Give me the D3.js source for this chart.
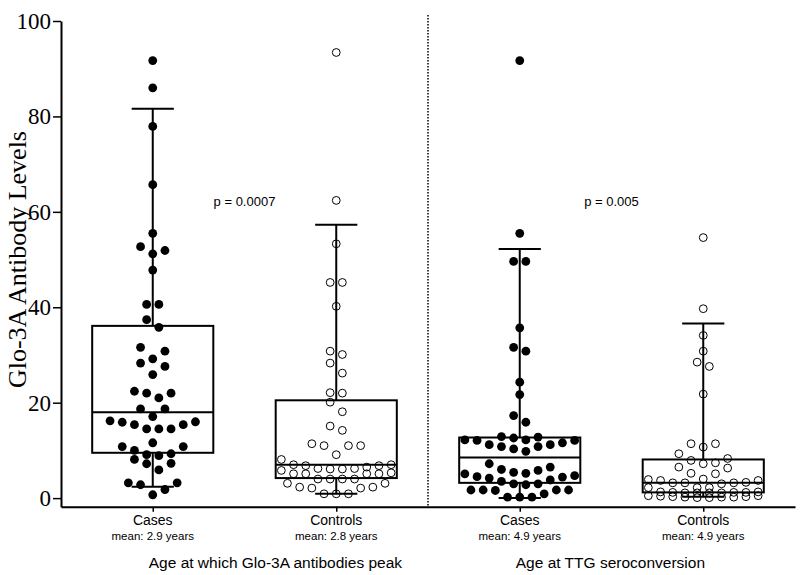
<!DOCTYPE html>
<html><head><meta charset="utf-8">
<script src="https://cdn.jsdelivr.net/npm/d3@7"></script>
<style>body{margin:0;background:#fff} svg{display:block}</style>
</head><body><svg id="chart" width="800" height="575"></svg>
<script>
// ---------- data ----------
const groupLabels = ["Cases", "Controls", "Cases", "Controls"];
const meanLabels = ["mean: 2.9 years", "mean: 2.8 years", "mean: 4.9 years", "mean: 4.9 years"];
const sectionLabels = ["Age at which Glo-3A antibodies peak", "Age at TTG seroconversion"];
const pLabels = ["p = 0.0007", "p = 0.005"];
const yTicks = [0, 20, 40, 60, 80, 100];
const yTitle = "Glo-3A Antibody Levels";

const peakCases = [91.7, 86.0, 77.9, 65.7, 55.5, 52.7, 51.9, 51.2, 47.8, 40.6, 40.6, 37.4, 35.8, 31.6, 30.8, 29.2, 28.3, 27.6, 25.9, 22.4, 22.0, 22.0, 21.0, 18.7, 18.7, 17.1, 16.2, 16.0, 15.9, 15.4, 15.4, 14.5, 14.5, 14.5, 11.6, 10.8, 10.8, 10.0, 9.3, 9.1, 8.9, 8.1, 7.3, 7.2, 5.9, 3.2, 3.2, 2.8, 1.8, 0.7];
const peakControls = [93.4, 62.4, 53.3, 45.2, 45.2, 40.2, 30.8, 30.1, 28.3, 26.2, 22.1, 22.0, 20.1, 18.1, 15.1, 14.2, 11.4, 11.0, 11.0, 11.0, 9.1, 8.1, 7.0, 7.0, 6.8, 6.8, 6.5, 6.2, 6.2, 6.1, 6.1, 5.8, 5.3, 5.1, 5.1, 5.1, 5.1, 4.0, 4.0, 4.0, 4.0, 3.1, 3.1, 2.3, 2.3, 2.1, 2.1, 0.9, 0.9, 0.9];
const ttgCases = [91.7, 55.5, 49.6, 49.6, 35.7, 31.6, 30.8, 24.3, 21.7, 17.3, 15.9, 12.9, 12.8, 12.6, 12.2, 12.2, 12.1, 12.1, 11.6, 11.2, 11.2, 10.8, 10.8, 10.3, 9.8, 7.2, 6.5, 6.0, 5.8, 5.4, 5.2, 5.1, 4.7, 4.5, 4.4, 4.2, 3.8, 3.5, 3.0, 3.0, 2.8, 1.7, 1.7, 1.7, 1.7, 1.6, 0.9, 0.2, 0.2, 0.2];
const ttgControls = [54.6, 39.7, 34.1, 30.8, 28.5, 27.6, 21.8, 11.4, 11.4, 10.7, 9.3, 8.3, 7.9, 7.4, 7.2, 6.5, 6.3, 5.2, 5.1, 4.0, 3.9, 3.7, 3.7, 3.3, 3.2, 3.2, 3.2, 3.0, 2.2, 2.2, 2.2, 1.3, 1.3, 1.2, 1.2, 1.2, 1.1, 1.1, 1.1, 1.1, 0.5, 0.5, 0.4, 0.3, 0.3, 0.2, 0.2, 0.2, 0.1, 0.1];

const whiskerLow  = [2.4, 0.9, 0.0, 0.3];
const q1          = [9.5, 4.2, 3.2, 1.2];
const median      = [18.0, 7.0, 8.5, 3.2];
const q3          = [36.1, 20.5, 12.7, 8.1];
const whiskerHigh = [81.6, 57.3, 52.2, 36.6];

const groupValues = [peakCases, peakControls, ttgCases, ttgControls];
const filled = [true, false, true, false];

// ---------- layout ----------
const svg = d3.select("#chart");
const x = d3.scalePoint().domain(d3.range(groupLabels.length)).range([61, 795]).padding(0.5);
const y = d3.scaleLinear().domain([-1.8, 100]).range([506.7, 21]);
const step = x.step();
const boxW = step * 0.66, capW = step * 0.23;
const slotPx = 12.2, rowPx = 12.2, maxRow = 10;

function swarm(vals) {
  const sorted = vals.slice().sort((a, b) => a - b);
  const rows = []; let cur = null;
  for (const v of sorted) {
    if (!cur || cur.items.length >= maxRow || Math.abs(y(v) - y(cur.start)) > rowPx + 1e-6) {
      cur = {start: v, items: []}; rows.push(cur);
    }
    cur.items.push(v);
  }
  const out = [];
  rows.forEach(r => {
    const n = r.items.length;
    r.items.forEach((v, k) => {
      let s;
      if (n % 2) s = k === 0 ? 0 : (k % 2 ? (k + 1) / 2 : -k / 2);
      else s = k % 2 === 0 ? (k / 2 + 0.5) : -((k - 1) / 2 + 0.5);
      out.push({v, s});
    });
  });
  return out;
}

// separator
const sepX = (x(1) + x(2)) / 2;
svg.append("line").attr("x1", sepX).attr("x2", sepX)
  .attr("y1", y(100) - 6).attr("y2", y.range()[0])
  .attr("stroke", "#000").attr("stroke-width", 1.5).attr("stroke-dasharray", "1.5,1.5");

// boxes & whiskers
const g = svg.append("g");
groupValues.forEach((vals, i) => {
  const cx = x(i);
  const gg = g.append("g").attr("stroke", "#000").attr("stroke-width", 2).attr("fill", "none");
  gg.append("line").attr("x1", cx).attr("x2", cx).attr("y1", y(whiskerHigh[i])).attr("y2", y(q3[i]));
  gg.append("line").attr("x1", cx).attr("x2", cx).attr("y1", y(q1[i])).attr("y2", y(whiskerLow[i]));
  gg.append("line").attr("x1", cx - capW / 2).attr("x2", cx + capW / 2).attr("y1", y(whiskerHigh[i])).attr("y2", y(whiskerHigh[i]));
  gg.append("line").attr("x1", cx - capW / 2).attr("x2", cx + capW / 2).attr("y1", y(whiskerLow[i])).attr("y2", y(whiskerLow[i]));
  gg.append("rect").attr("x", cx - boxW / 2).attr("width", boxW)
    .attr("y", y(q3[i])).attr("height", y(q1[i]) - y(q3[i]));
  gg.append("line").attr("x1", cx - boxW / 2).attr("x2", cx + boxW / 2).attr("y1", y(median[i])).attr("y2", y(median[i]));
});

// points
groupValues.forEach((vals, i) => {
  const pts = swarm(vals);
  svg.append("g").selectAll("circle").data(pts).join("circle")
    .attr("cx", d => x(i) + d.s * slotPx)
    .attr("cy", d => y(d.v))
    .attr("r", filled[i] ? 4.4 : 3.9)
    .attr("fill", filled[i] ? "#000" : "none")
    .attr("stroke", "#000")
    .attr("stroke-width", filled[i] ? 0 : 1);
});

// axes
const yAxis = d3.axisLeft(y).tickValues(yTicks).tickSize(8).tickSizeOuter(0).tickPadding(2);
const ya = svg.append("g").attr("transform", `translate(${x.range()[0]},0)`).call(yAxis);
ya.select(".domain").attr("stroke-width", 2);
ya.selectAll(".tick line").attr("stroke-width", 1.5);
ya.selectAll(".tick text").attr("font-family", "'Liberation Serif', 'Times New Roman', serif")
  .attr("font-size", 23).attr("fill", "#000");

const xAxis = d3.axisBottom(x).tickSize(5).tickSizeOuter(0).tickFormat(() => "");
const xa = svg.append("g").attr("transform", `translate(0,${y.range()[0]})`).call(xAxis);
xa.select(".domain").attr("stroke-width", 2);
xa.selectAll(".tick line").attr("stroke-width", 1.5);

// x labels
const sans = "'Liberation Sans', Arial, sans-serif";
svg.append("g").selectAll("text").data(groupLabels).join("text")
  .attr("x", (d, i) => x(i)).attr("y", 525)
  .attr("text-anchor", "middle").attr("font-family", sans).attr("font-size", 14).text(d => d);
svg.append("g").selectAll("text").data(meanLabels).join("text")
  .attr("x", (d, i) => x(i)).attr("y", 540)
  .attr("text-anchor", "middle").attr("font-family", sans).attr("font-size", 11.5).text(d => d);
svg.append("g").selectAll("text").data(sectionLabels).join("text")
  .attr("x", (d, i) => x(2 * i) - 4).attr("y", 568)
  .attr("text-anchor", "start").attr("font-family", sans).attr("font-size", 15.5).text(d => d);
svg.append("g").selectAll("text").data(pLabels).join("text")
  .attr("x", (d, i) => (x(2 * i) + x(2 * i + 1)) / 2).attr("y", 206)
  .attr("text-anchor", "middle").attr("font-family", sans).attr("font-size", 13).text(d => d);

// y title
svg.append("text")
  .attr("transform", `translate(26,${(y(0) + y(100)) / 2}) rotate(-90)`)
  .attr("text-anchor", "middle")
  .attr("font-family", "'Liberation Serif', 'Times New Roman', serif")
  .attr("font-size", 26).text(yTitle);
</script></body></html>
